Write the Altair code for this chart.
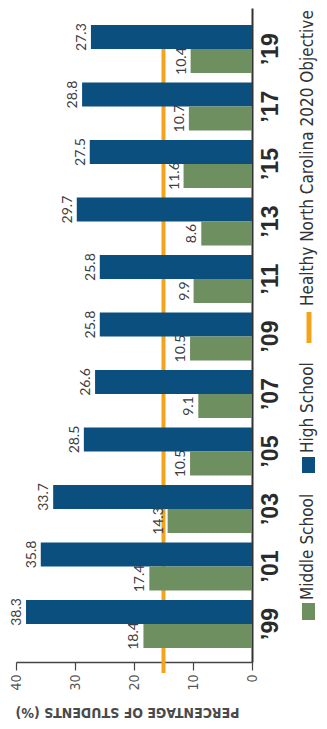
import altair as alt
import pandas as pd

years = ["’99", "’01", "’03", "’05", "’07", "’09", "’11", "’13", "’15", "’17", "’19"]
high_school = [38.3, 35.8, 33.7, 28.5, 26.6, 25.8, 25.8, 29.7, 27.5, 28.8, 27.3]
middle_school = [18.4, 17.4, 14.3, 10.5, 9.1, 10.5, 9.9, 8.6, 11.6, 10.7, 10.4]
series_names = ["High School", "Middle School"]
series_colors = ["#0b4f7f", "#6e8f60"]
objective_value = 15
objective_label = "Healthy North Carolina 2020 Objective"
objective_color = "#f4a41c"
value_ticks = [0, 5, 10, 15, 20, 25, 30, 35, 40]

rows = []
for y, h, m in zip(years, high_school, middle_school):
    rows.append({"year": y, "series": "High School", "value": h})
    rows.append({"year": y, "series": "Middle School", "value": m})
df = pd.DataFrame(rows)

W, H = 236, 654
COND = "Liberation Sans Narrow, DejaVu Sans Condensed, Roboto, sans-serif"

year_order = list(reversed(years))

yscale = alt.Scale(domain=year_order, paddingInner=0.165, paddingOuter=0.27, align=0.55)
xscale = alt.Scale(domain=[0, 40], reverse=True, nice=False)
color_scale = alt.Scale(domain=series_names, range=series_colors)

x_axis = alt.Axis(
    orient="bottom", values=value_ticks, grid=False,
    labelExpr="datum.value % 10 == 0 ? datum.label : ''",
    labelAngle=270, labelFont=COND, labelFontSize=14, labelColor="#555555",
    labelPadding=4, tickSize=8, tickColor="#444444", tickWidth=1.2,
    domainColor="#444444", domainWidth=1.5,
    title="PERCENTAGE OF STUDENTS (%)", titleAngle=180, titleFont=COND,
    titleFontSize=14, titleFontWeight="bold", titleColor="#4a4a4a",
    titleX=111, titleY=49, titleBaseline="middle", titleAlign="center",
)
y_axis = alt.Axis(
    orient="right", title=None, ticks=False, grid=False,
    labelAngle=270, labelAlign="center", labelBaseline="top",
    labelFont="Liberation Sans", labelFontSize=23, labelFontWeight="bold",
    labelColor="#2b2b2b", labelPadding=7,
    domainColor="#333333", domainWidth=2,
)

base = alt.Chart(df)

rule = alt.Chart(pd.DataFrame({"v": [objective_value]})).mark_rule(
    color=objective_color, strokeWidth=4
).encode(
    x=alt.X("v:Q", scale=xscale, axis=x_axis),
    y=alt.value(18), y2=alt.value(H + 11),
)

bars = base.mark_bar().encode(
    x=alt.X("value:Q", scale=xscale, axis=x_axis),
    y=alt.Y("year:N", scale=yscale, sort=year_order, axis=y_axis),
    yOffset=alt.YOffset("series:N", sort=series_names, scale=alt.Scale(paddingInner=0, paddingOuter=0)),
    color=alt.Color("series:N", scale=color_scale, legend=None),
)

labels = base.mark_text(
    angle=270, align="center", baseline="bottom", dy=-2,
    font="Lato", fontSize=14, color="#3d3d3d",
).encode(
    x=alt.X("value:Q", scale=xscale),
    y=alt.Y("year:N", scale=yscale, sort=year_order),
    yOffset=alt.YOffset("series:N", sort=series_names, scale=alt.Scale(paddingInner=0, paddingOuter=0)),
    text=alt.Text("value:Q", format=".1f"),
)

one = pd.DataFrame({"a": [0]})
OX, OY = 16, 8  # plot origin on the page
LX = 301 - OX
LFS = 17
legend_layers = [
    alt.Chart(one).mark_rect(color=series_colors[1]).encode(
        x=alt.value(LX + 1), x2=alt.value(LX + 14), y=alt.value(603 - OY), y2=alt.value(620 - OY)),
    alt.Chart(one).mark_text(text=series_names[1], angle=270, align="left", baseline="top",
                             font=COND, fontSize=LFS, color="#333333").encode(
        x=alt.value(LX - 1), y=alt.value(600 - OY)),
    alt.Chart(one).mark_rect(color=series_colors[0]).encode(
        x=alt.value(LX + 1), x2=alt.value(LX + 14), y=alt.value(457 - OY), y2=alt.value(473 - OY)),
    alt.Chart(one).mark_text(text=series_names[0], angle=270, align="left", baseline="top",
                             font=COND, fontSize=LFS, color="#333333").encode(
        x=alt.value(LX - 1), y=alt.value(453 - OY)),
    alt.Chart(one).mark_rule(color=objective_color, strokeWidth=5).encode(
        x=alt.value(LX + 8), y=alt.value(312 - OY), y2=alt.value(343 - OY)),
    alt.Chart(one).mark_text(text=objective_label, angle=270, align="left", baseline="top",
                             font=COND, fontSize=LFS, color="#333333").encode(
        x=alt.value(LX - 1), y=alt.value(306 - OY)),
]

chart = alt.layer(rule, bars, labels, *legend_layers).properties(
    width=W, height=H,
    autosize=alt.AutoSizeParams(type="none"),
    padding={"left": 8, "top": 0, "right": 67, "bottom": 58},
    background="white",
).configure_view(stroke=None)

chart.save("out.html", embed_options={"renderer": "svg", "actions": False})
